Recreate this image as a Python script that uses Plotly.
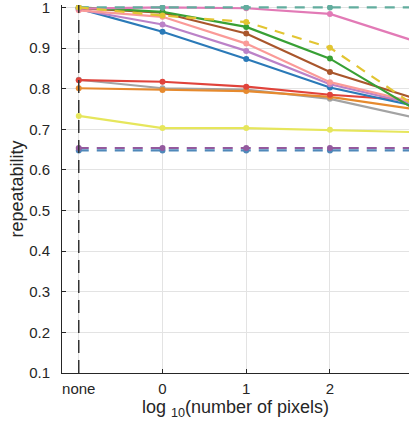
import plotly.graph_objects as go

# x positions: "none" is drawn at -1, then log10 of the pixel count
x_pos = [-1, 0, 1, 2, 3]
tick_vals = [-1, 0, 1, 2]
tick_text = ["none", "0", "1", "2"]
y_ticks = [0.1, 0.2, 0.3, 0.4, 0.5, 0.6, 0.7, 0.8, 0.9, 1.0]
y_tick_text = ["0.1", "0.2", "0.3", "0.4", "0.5", "0.6", "0.7", "0.8", "0.9", "1"]

# repeatability of each method for the different pixel counts
gray_vals = [0.822, 0.801, 0.798, 0.775, 0.729]
orange_vals = [0.801, 0.797, 0.794, 0.780, 0.750]
red_vals = [0.821, 0.817, 0.805, 0.785, 0.771]
ylight_vals = [0.733, 0.703, 0.703, 0.699, 0.693]
blue_vals = [0.997, 0.940, 0.873, 0.803, 0.758]
purple_vals = [0.995, 0.958, 0.893, 0.811, 0.763]
salmon_vals = [0.993, 0.977, 0.911, 0.816, 0.767]
brown_vals = [0.998, 0.987, 0.936, 0.841, 0.777]
green_vals = [1.000, 0.989, 0.952, 0.874, 0.751]
pink_vals = [0.997, 1.000, 0.998, 0.984, 0.918]
teal_vals = [1.000, 1.000, 1.000, 1.000, 1.000]
ydash_vals = [1.000, 0.980, 0.964, 0.901, 0.760]
pdash_vals = [0.654, 0.654, 0.654, 0.654, 0.654]
bdash_vals = [0.648, 0.648, 0.648, 0.648, 0.648]

series = [
    (bdash_vals, "#4f88b9", "dash"),
    (pdash_vals, "#945a9e", "dash"),
    (gray_vals, "#a3a3a3", "solid"),
    (orange_vals, "#e68a2e", "solid"),
    (red_vals, "#e0433b", "solid"),
    (ylight_vals, "#e6e65c", "solid"),
    (blue_vals, "#2b7ab8", "solid"),
    (purple_vals, "#bb82c8", "solid"),
    (salmon_vals, "#fa9a98", "solid"),
    (brown_vals, "#a9562c", "solid"),
    (green_vals, "#38a035", "solid"),
    (pink_vals, "#e27ab6", "solid"),
    (teal_vals, "#62ad9e", "dash"),
    (ydash_vals, "#e2c532", "dash"),
]

fig = go.Figure()
for vals, color, dash in series:
    fig.add_trace(go.Scatter(
        x=x_pos, y=vals, mode="lines+markers",
        line=dict(color=color, width=2.2, dash="10px,8px" if dash == "dash" else "solid"),
        marker=dict(color=color, size=6),
        showlegend=False,
    ))

# reference line at the "none" position
fig.add_vline(x=tick_vals[0], line=dict(color="#333333", width=1.5, dash="13px,7px"), layer="above")

fig.update_layout(
    width=409, height=427,
    margin=dict(l=62, r=0, t=5, b=54),
    plot_bgcolor="white", paper_bgcolor="white",
    font=dict(family="Liberation Sans, Arial, sans-serif", size=15, color="#262626"),
    xaxis=dict(
        range=[-1.2, 2.944], tickvals=tick_vals, ticktext=tick_text,
        showgrid=True, gridcolor="#e3e3e3", gridwidth=1,
        showline=True, linecolor="#262626", linewidth=1,
        ticks="inside", ticklen=4, tickcolor="#262626",
        zeroline=False, ticklabelstandoff=2,
        title=dict(text="log <sub>10</sub>(number of pixels)", font=dict(size=18), standoff=2),
    ),
    yaxis=dict(
        range=[0.1, 1.006], tickvals=y_ticks, ticktext=y_tick_text,
        showgrid=True, gridcolor="#e3e3e3", gridwidth=1,
        showline=True, linecolor="#262626", linewidth=1,
        ticks="inside", ticklen=4, tickcolor="#262626",
        zeroline=False, ticklabelstandoff=8, ticklabeloverflow="allow",
        title=dict(text="repeatability", font=dict(size=18), standoff=0),
    ),
)

fig.write_html("out.html")
